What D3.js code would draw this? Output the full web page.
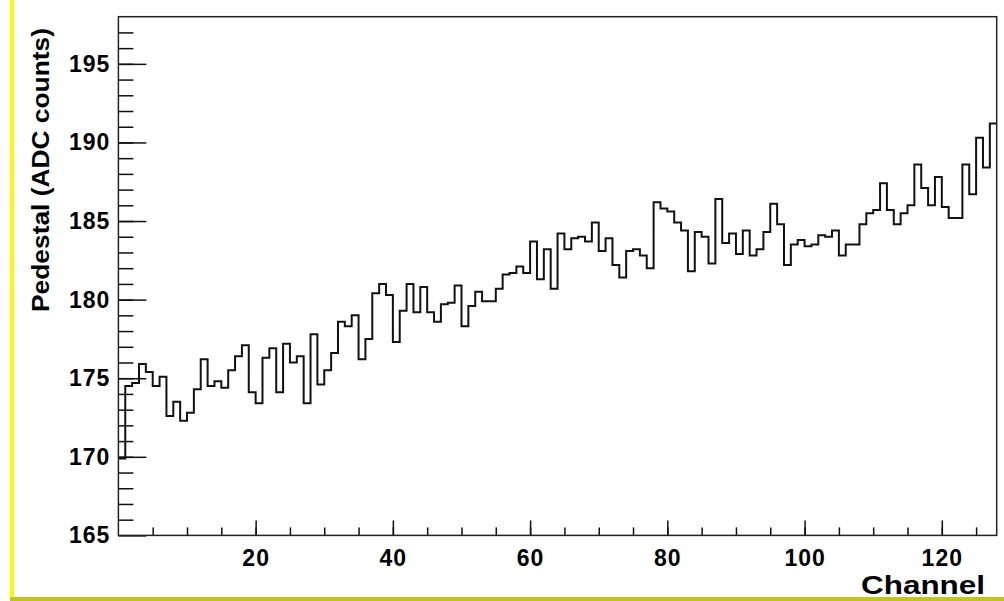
<!DOCTYPE html>
<html>
<head>
<meta charset="utf-8">
<script src="https://cdn.jsdelivr.net/npm/d3@7"></script>
<style>
  html, body { margin: 0; padding: 0; background: #ffffff; }
  svg { display: block; }
  text { font-family: "Liberation Sans", Arial, Helvetica, sans-serif; font-weight: bold; fill: #000; }
</style>
</head>
<body>
<svg id="chart" width="1004" height="601"></svg>
<script>
// Pedestal per readout channel (ADC counts), channels 0..127 as unit-width bins
const channelRange = [0, 128];
const pedestalRange = [165, 198];
const pedestal = [
  169.9, 174.5, 174.7, 175.9, 175.4, 174.5, 175.1, 172.6, 173.5, 172.3,
  172.8, 174.3, 176.2, 174.5, 174.8, 174.4, 175.5, 176.4, 177.1, 174.1,
  173.4, 176.3, 176.9, 174.1, 177.2, 176.0, 176.4, 173.4, 177.8, 174.6,
  175.5, 176.6, 178.6, 178.3, 179.0, 176.2, 177.5, 180.4, 181.0, 180.3,
  177.3, 179.3, 181.0, 179.2, 180.8, 179.2, 178.6, 179.7, 179.8, 180.9,
  178.3, 179.6, 180.5, 179.9, 179.9, 180.7, 181.6, 181.7, 182.1, 181.7,
  183.7, 181.3, 183.2, 180.7, 184.2, 183.2, 183.9, 184.0, 183.7, 184.9,
  183.1, 183.9, 182.2, 181.4, 183.1, 183.2, 182.8, 182.0, 186.2, 185.8,
  185.6, 184.9, 184.4, 181.8, 184.3, 184.0, 182.3, 186.4, 183.6, 184.2,
  182.9, 184.4, 182.8, 183.2, 184.3, 186.1, 184.8, 182.2, 183.5, 183.8,
  183.4, 183.5, 184.1, 184.0, 184.4, 182.8, 183.5, 183.5, 184.8, 185.5,
  185.7, 187.4, 185.7, 184.8, 185.5, 186.0, 188.6, 187.1, 186.0, 187.8,
  185.9, 185.2, 185.2, 188.6, 186.7, 190.3, 188.4, 191.2
];
const xMajorTicks = [20, 40, 60, 80, 100, 120];
const xMinorTicks = d3.range(5, 128, 5);
const yMajorTicks = [165, 170, 175, 180, 185, 190, 195];
const yMinorTicks = d3.range(166, 198, 1);
const xTitle = "Channel";
const yTitle = "Pedestal (ADC counts)";

const svg = d3.select("#chart");
const frame = { left: 118.4, right: 996.7, top: 16.7, bottom: 535.4 };

const x = d3.scaleLinear().domain(channelRange).range([frame.left, frame.right]);
const y = d3.scaleLinear().domain(pedestalRange).range([frame.bottom, frame.top]);

// canvas bevel: light left edge, darker bottom edge
svg.append("rect").attr("x", 10).attr("y", 0).attr("width", 4).attr("height", 598)
  .attr("fill", "#f8f810");
svg.append("rect").attr("x", 10).attr("y", 597).attr("width", 994).attr("height", 4)
  .attr("fill", "#c4c41e");

// minor ticks (inward, no labels)
svg.append("g")
  .attr("transform", `translate(0,${frame.bottom})`)
  .call(d3.axisBottom(x).tickValues(xMinorTicks).tickSize(-8).tickFormat(""))
  .call(g => g.select(".domain").remove());
svg.append("g")
  .attr("transform", `translate(${frame.left},0)`)
  .call(d3.axisLeft(y).tickValues(yMinorTicks).tickSize(-15).tickFormat(""))
  .call(g => g.select(".domain").remove());

// major ticks with labels
svg.append("g")
  .attr("transform", `translate(0,${frame.bottom})`)
  .call(d3.axisBottom(x).tickValues(xMajorTicks).tickSize(-15).tickPadding(14).tickFormat(d3.format("d")))
  .call(g => g.select(".domain").remove());
svg.append("g")
  .attr("transform", `translate(${frame.left},0)`)
  .call(d3.axisLeft(y).tickValues(yMajorTicks).tickSize(-28).tickPadding(8).tickFormat(d3.format("d")))
  .call(g => g.select(".domain").remove());

svg.selectAll(".tick line").attr("stroke", "#111").attr("stroke-width", 1.5);
svg.selectAll(".tick text")
  .attr("font-family", "'Liberation Sans', Arial, sans-serif")
  .attr("font-weight", "bold")
  .attr("font-size", 23)
  .attr("letter-spacing", 1)
  .attr("fill", "#000");

// histogram outline
const steps = pedestal.map((v, i) => [i, v]);
steps.push([pedestal.length, pedestal[pedestal.length - 1]]);
const line = d3.line().x(d => x(d[0])).y(d => y(d[1])).curve(d3.curveStepAfter);
svg.append("path")
  .datum(steps)
  .attr("d", line)
  .attr("fill", "none")
  .attr("stroke", "#111")
  .attr("stroke-width", 2);

// frame
svg.append("rect")
  .attr("x", frame.left).attr("y", frame.top)
  .attr("width", frame.right - frame.left).attr("height", frame.bottom - frame.top)
  .attr("fill", "none").attr("stroke", "#222").attr("stroke-width", 1.5);

// axis titles
svg.append("text")
  .attr("x", 985).attr("y", 594)
  .attr("text-anchor", "end")
  .attr("font-size", 25)
  .attr("textLength", 124).attr("lengthAdjust", "spacingAndGlyphs")
  .text(xTitle);

svg.append("text")
  .attr("transform", "translate(49,312) rotate(-90)")
  .attr("text-anchor", "start")
  .attr("font-size", 24)
  .attr("textLength", 284).attr("lengthAdjust", "spacingAndGlyphs")
  .text(yTitle);
</script>
</body>
</html>
